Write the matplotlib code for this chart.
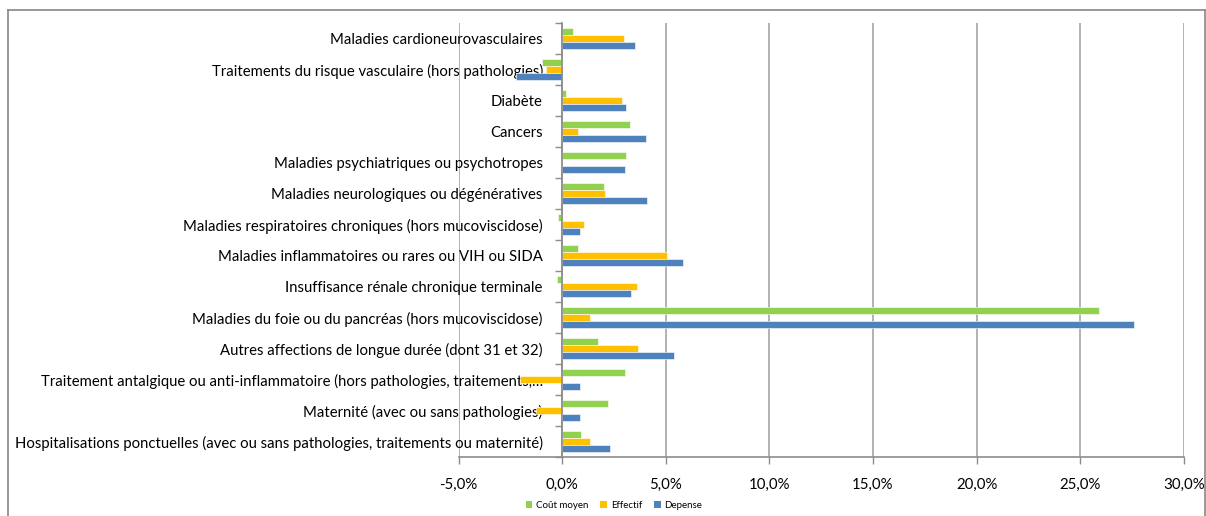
import matplotlib
matplotlib.use("Agg")
import matplotlib.pyplot as plt
from matplotlib.ticker import FuncFormatter
from matplotlib.lines import Line2D
from matplotlib.patches import Patch
import numpy as np

plt.rcParams['font.family'] = ['Lato', 'DejaVu Sans']

categories = [
    "Maladies cardioneurovasculaires",
    "Traitements du risque vasculaire (hors pathologies)",
    "Diabète",
    "Cancers",
    "Maladies psychiatriques ou psychotropes",
    "Maladies neurologiques ou dégénératives",
    "Maladies respiratoires chroniques (hors mucoviscidose)",
    "Maladies inflammatoires ou rares ou VIH ou SIDA",
    "Insuffisance rénale chronique terminale",
    "Maladies du foie ou du pancréas (hors mucoviscidose)",
    "Autres affections de longue durée (dont 31 et 32)",
    "Traitement antalgique ou anti-inflammatoire (hors pathologies, traitements,…",
    "Maternité (avec ou sans pathologies)",
    "Hospitalisations ponctuelles (avec ou sans pathologies, traitements ou maternité)",
]

# growth rates, in %
cout_moyen = [0.52, -1.00, 0.16, 3.27, 3.09, 2.00, -0.23, 0.74, -0.26, 25.91, 1.72, 3.01, 2.19, 0.92]
effectif   = [2.96, -0.78, 2.90, 0.74, -0.06, 2.04, 1.06, 5.06, 3.59, 1.34, 3.64, -2.06, -1.25, 1.35]
depense    = [3.49, -2.23, 3.08, 4.06, 3.01, 4.09, 0.84, 5.83, 3.33, 27.58, 5.41, 0.87, 0.84, 2.29]

series = [("Coût moyen", cout_moyen, "#92D050"),
          ("Effectif", effectif, "#FFC000"),
          ("Depense", depense, "#4F81BD")]

W, H = 1206, 516
fig = plt.figure(figsize=(W / 100, H / 100), dpi=100)

x0, x1 = 458.7, 1183.7
y0, y1 = 23, 457
ax = fig.add_axes([x0 / W, 1 - y1 / H, (x1 - x0) / W, (y1 - y0) / H])

n = len(categories)
ypos = np.arange(n)[::-1]
bh = 0.22
offsets = [bh, 0, -bh]
for (name, vals, col), off in zip(series, offsets):
    ax.barh(ypos + off, vals, height=bh, color=col, edgecolor="white",
            linewidth=0.4, label=name, zorder=3)

ax.set_xlim(-5, 30)
ax.set_ylim(-0.5, n - 0.5)
ax.set_xticks(np.arange(-5, 31, 5))
ax.xaxis.set_major_formatter(FuncFormatter(lambda v, p: f"{v:.1f}%".replace(".", ",")))
ax.grid(axis="x", color="#A6A6A6", linewidth=1.2, zorder=0)
ax.tick_params(axis="x", length=5, width=1, color="#8C8C8C", labelsize=10.8,
               labelcolor="#000000", pad=10)

# category axis sits on the zero line
ax.spines["left"].set_position(("data", 0))
for s in ["top", "right"]:
    ax.spines[s].set_visible(False)
for s in ["left", "bottom"]:
    ax.spines[s].set_color("#8C8C8C")
    ax.spines[s].set_linewidth(1.2)
    ax.spines[s].set_zorder(4)

ax.set_yticks(np.arange(-0.5, n, 1.0))
ax.set_yticklabels([])
ax.tick_params(axis="y", which="major", length=5, width=1, color="#8C8C8C")
ax.set_yticks(ypos, minor=True)
ax.set_yticklabels(categories, minor=True)
ax.tick_params(axis="y", which="minor", length=0, pad=14, labelsize=10.7)

handles = [Patch(facecolor=c, edgecolor="none") for _, _, c in series]
fig.legend(handles, [s[0] for s in series], loc="center",
           bbox_to_anchor=(614 / W, 1 - 505 / H), ncol=3, frameon=False,
           fontsize=7, handlelength=0.7, handleheight=0.7, handletextpad=0.4,
           columnspacing=1.2)

# chart frame
frame_col = "#868686"
fig.add_artist(Line2D([8 / W, 8 / W], [0, 1 - 10 / H], color=frame_col, lw=1.2,
                      transform=fig.transFigure))
fig.add_artist(Line2D([8 / W, 1205 / W], [1 - 10 / H, 1 - 10 / H], color=frame_col,
                      lw=1.2, transform=fig.transFigure))
fig.add_artist(Line2D([1205 / W, 1205 / W], [0, 1 - 10 / H], color=frame_col, lw=1.2,
                      transform=fig.transFigure))

fig.savefig("out.png", dpi=100)
